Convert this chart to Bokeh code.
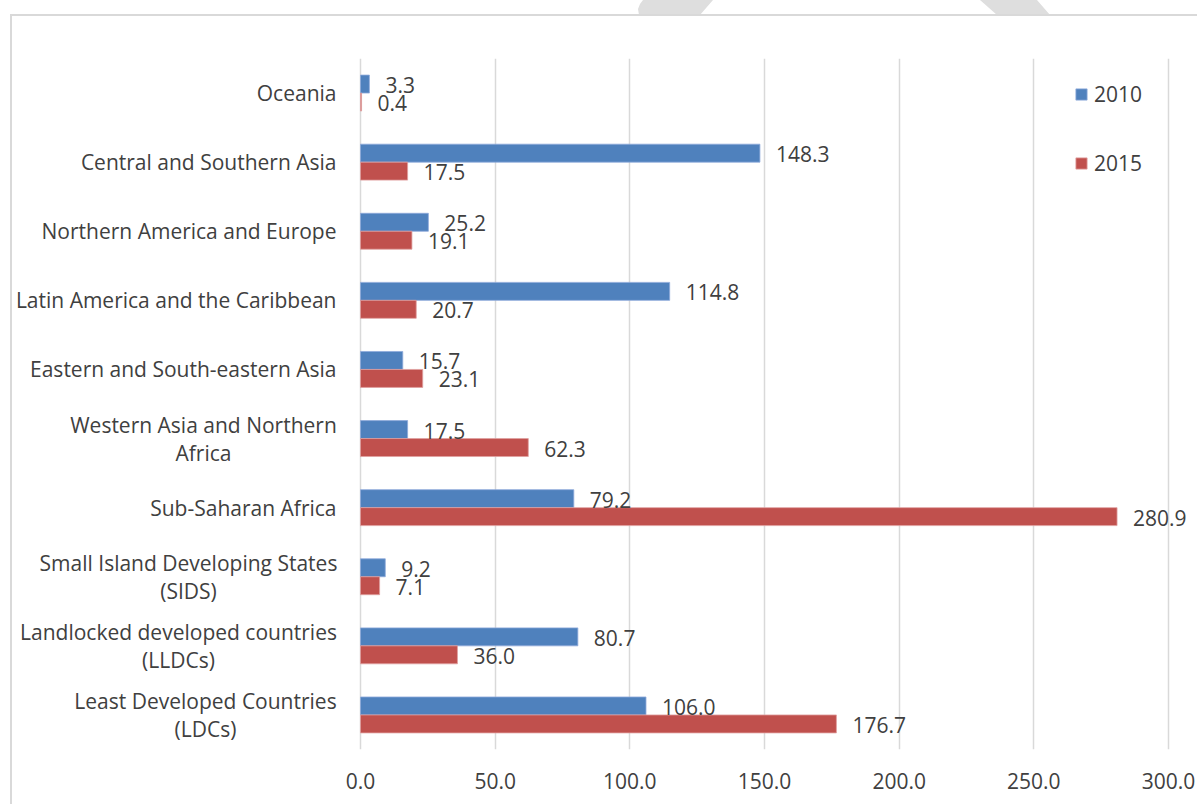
from bokeh.plotting import figure
from bokeh.models import (ColumnDataSource, FactorRange, Range1d, FixedTicker, NumeralTickFormatter,
                          Legend, LegendItem, InlineStyleSheet)
from bokeh.transform import dodge
from bokeh.core.properties import value
from bokeh.embed import file_html
from bokeh.resources import INLINE

# Data (top-to-bottom order in the chart)
regions = [
    "Oceania",
    "Central and Southern Asia",
    "Northern America and Europe",
    "Latin America and the Caribbean",
    "Eastern and South-eastern Asia",
    "Western Asia and Northern\nAfrica",
    "Sub-Saharan Africa",
    "Small Island Developing States\n(SIDS)",
    "Landlocked developed countries\n(LLDCs)",
    "Least Developed Countries\n(LDCs)",
]
values_2010 = [3.3, 148.3, 25.2, 114.8, 15.7, 17.5, 79.2, 9.2, 80.7, 106.0]
values_2015 = [0.4, 17.5, 19.1, 20.7, 23.1, 62.3, 280.9, 7.1, 36.0, 176.7]
x_ticks = [0, 50, 100, 150, 200, 250, 300]

FONT = "Open Sans"
FS = "21px"
TXT = "#404040"
BLUE = "#4F81BD"
RED = "#C0504D"

src = ColumnDataSource(dict(
    region=regions,
    v2010=values_2010,
    v2015=values_2015,
    l2010=[f"{v:.1f}" for v in values_2010],
    l2015=[f"{v:.1f}" for v in values_2015],
))

# category labels: single-line ones right-aligned; two-line ones centred (as in the original)
single = [r for r in regions if "\n" not in r]
double = [r for r in regions if "\n" in r]
double_center_offset = [-157, -172, -182, -155]  # px from the value axis to each label's centre
lab1 = ColumnDataSource(dict(region=single, x=[0] * len(single)))
lab2 = ColumnDataSource(dict(region=double, x=[0] * len(double), dx=double_center_offset))

p = figure(
    width=1197, height=804,
    y_range=FactorRange(*reversed(regions), range_padding=0),
    x_range=Range1d(-133.66, 310.77),
    output_backend="svg", toolbar_location=None,
    min_border_left=0, min_border_right=0, min_border_top=58, min_border_bottom=55,
)
p.outline_line_color = None
p.background_fill_color = "white"
p.border_fill_color = "white"

# Chart-area border and the faint watermark strokes above it (page decoration)
css = """
:host::before {
  content: ""; position: absolute; left: 0; top: 0; width: 1197px; height: 15px;
  background: #DEDEDE; z-index: 10; pointer-events: none;
  clip-path: polygon(643px 0px, 713px 0px, 700px 15px, 639px 15px, 638px 9px, 640px 4px, 643px 0px,
                     980px 0px, 1037px 0px, 1050px 15px, 997px 15px, 980px 0px, 643px 0px);
}
:host::after {
  content: ""; position: absolute; left: 10px; top: 14px; right: 0; bottom: 0;
  border-left: 2px solid #D9D9D9; border-top: 2px solid #D9D9D9;
  z-index: 10; pointer-events: none;
}
"""
p.stylesheets = [InlineStyleSheet(css=css)]

r1 = p.hbar(y=dodge("region", 0.13, range=p.y_range), right="v2010", left=0, height=0.26,
            source=src, fill_color=BLUE, line_color="#8EAADB", line_width=0.8)
r2 = p.hbar(y=dodge("region", -0.13, range=p.y_range), right="v2015", left=0, height=0.26,
            source=src, fill_color=RED, line_color="#E0A0A0", line_width=0.8)

p.text(x="v2010", y=dodge("region", 0.13, range=p.y_range), text="l2010", source=src,
       x_offset=16, y_offset=1, text_baseline="middle", text_align="left",
       text_font=value(FONT), text_font_size=FS, text_color=TXT)
p.text(x="v2015", y=dodge("region", -0.13, range=p.y_range), text="l2015", source=src,
       x_offset=16, y_offset=1, text_baseline="middle", text_align="left",
       text_font=value(FONT), text_font_size=FS, text_color=TXT)

# Category labels placed through the categorical scale
p.text(x="x", y="region", text="region", source=lab1, x_offset=-24,
       text_align="right", text_baseline="middle",
       text_font=value(FONT), text_font_size=FS, text_color=TXT)
p.text(x="x", y="region", text="region", source=lab2, x_offset="dx",
       text_align="center", text_baseline="middle", text_line_height=1.0,
       text_font=value(FONT), text_font_size=FS, text_color=TXT)

# Axes
p.yaxis.visible = False
p.xaxis.ticker = FixedTicker(ticks=x_ticks)
p.xaxis.formatter = NumeralTickFormatter(format="0.0")
p.xaxis.axis_line_color = None
p.xaxis.major_tick_line_color = None
p.xaxis.minor_tick_line_color = None
p.xaxis.major_label_standoff = 17
p.xaxis.major_label_text_font = FONT
p.xaxis.major_label_text_font_size = FS
p.xaxis.major_label_text_color = TXT

p.xgrid.grid_line_color = "#D9D9D9"
p.xgrid.grid_line_width = 1.5
p.ygrid.grid_line_color = None

legend = Legend(items=[LegendItem(label="2010", renderers=[r1]),
                       LegendItem(label="2015", renderers=[r2])],
                location=(1074, 571), orientation="vertical",
                padding=0, margin=0, spacing=39,
                glyph_width=14, glyph_height=14, label_height=30, label_standoff=6,
                label_text_font=FONT, label_text_font_size=FS, label_text_color=TXT,
                background_fill_alpha=0, border_line_color=None)
p.add_layout(legend, "center")

open("out.html", "w").write(file_html(p, INLINE))
